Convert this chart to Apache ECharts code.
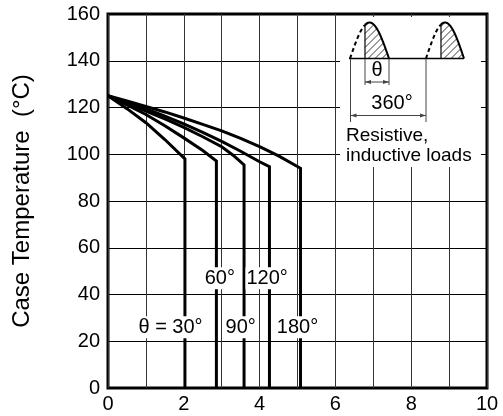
<!DOCTYPE html>
<html>
<head>
<meta charset="utf-8">
<script src="https://cdn.jsdelivr.net/npm/echarts@6/dist/echarts.min.js"></script>
<style>
html,body{margin:0;padding:0;background:#fff;}
#chart{width:503px;height:416px;}
</style>
</head>
<body>
<div id="chart"></div>
<script>
// ---- data ----
const xTicks = [0, 2, 4, 6, 8, 10];
const yTicks = [0, 20, 40, 60, 80, 100, 120, 140, 160];
const curveNames = ['θ = 30°', '60°', '90°', '120°', '180°'];
const curve30  = [[0,125],[0.5,119.5],[1,113.5],[1.5,106.3],[2.03,98],[2.03,0]];
const curve60  = [[0,125],[0.5,121.1],[1,117],[1.5,112.2],[2,107],[2.5,101.6],[2.86,97.1],[2.86,0]];
const curve90  = [[0,125],[0.5,121.8],[1,118.5],[1.5,115.1],[2,111.5],[2.5,107.5],[3,103.2],[3.3,99.6],[3.59,95.4],[3.59,0]];
const curve120 = [[0,125],[0.5,122.3],[1,119.5],[1.5,116.3],[2,113],[2.5,109.4],[3,105.5],[3.5,101.3],[4,96.8],[4.26,94.7],[4.26,0]];
const curve180 = [[0,125],[0.5,122.8],[1,120.5],[1.5,118.1],[2,115.5],[2.5,112.8],[3,110],[3.5,106.8],[4,103.3],[4.5,99.3],[5.08,94],[5.08,0]];
// label anchor points (data coords) for each curve label
const labelPos = [[1.65,26],[2.95,47],[3.5,26],[4.2,47],[5.0,26]];

const FONT = '"Liberation Sans", Arial, Helvetica, sans-serif';
const chart = echarts.init(document.getElementById('chart'), null, {renderer:'canvas'});

const curves = [curve30, curve60, curve90, curve120, curve180];
const series = curves.map((d, i) => ({
  type: 'line', name: curveNames[i], data: d, showSymbol: false, symbol: 'none',
  lineStyle: {color: '#000', width: 3, join: 'miter'}, z: 3, animation: false
}));

const option = {
  animation: false,
  backgroundColor: '#fff',
  grid: {left: 108, right: 16, top: 14, bottom: 28, show: true, borderColor: '#000', borderWidth: 3, backgroundColor: 'transparent'},
  xAxis: {
    type: 'value', min: 0, max: 10, interval: 1,
    axisLine: {show: false}, axisTick: {show: false},
    splitLine: {show: true, lineStyle: {color: '#333', width: 1}},
    axisLabel: {fontFamily: FONT, fontSize: 20, color: '#000', margin: 6,
      formatter: v => xTicks.indexOf(v) >= 0 ? String(v) : ''}
  },
  yAxis: {
    type: 'value', min: 0, max: 160, interval: 20,
    name: 'Case Temperature  (°C)', nameLocation: 'middle', nameGap: 74,
    nameTextStyle: {fontFamily: FONT, fontSize: 24, color: '#000'},
    axisLine: {show: false}, axisTick: {show: false},
    splitLine: {show: true, lineStyle: {color: '#000', width: 1}},
    axisLabel: {fontFamily: FONT, fontSize: 20, color: '#000', margin: 8,
      formatter: v => yTicks.indexOf(v) >= 0 ? String(v) : ''}
  },
  series: series
};
chart.setOption(option);

// ---- decorations: curve labels and inset waveform sketch ----
function buildGraphics() {
  const g = [];
  // curve labels with white background
  labelPos.forEach((p, i) => {
    const px = chart.convertToPixel({gridIndex: 0}, p);
    g.push({type: 'text', x: px[0], y: px[1], z: 100,
      style: {text: curveNames[i], font: '20px ' + FONT, fill: '#000', align: 'center', verticalAlign: 'middle',
        backgroundColor: '#fff', padding: [1, 1]}});
  });
  // inset white box
  g.push({type: 'rect', z: 90, shape: {x: 340, y: 17, width: 141, height: 150}, style: {fill: '#fff'}});
  const B = 58.5, A = 36;
  const pulses = [{x0: 350, w: 39, xs: 365}, {x0: 426, w: 38, xs: 441}];
  const top = (p, x) => B - A * Math.sin(Math.PI * (x - p.x0) / p.w);
  // baseline
  g.push({type: 'line', z: 101, shape: {x1: 349, y1: B, x2: 464, y2: B}, style: {stroke: '#000', lineWidth: 1.5}});
  pulses.forEach(p => {
    const dashPts = [], solidPts = [];
    for (let x = p.x0; x <= p.xs + 0.001; x += 0.5) dashPts.push([x, top(p, x)]);
    for (let x = p.xs; x <= p.x0 + p.w + 0.001; x += 0.5) solidPts.push([x, top(p, x)]);
    g.push({type: 'polyline', z: 102, shape: {points: dashPts}, style: {stroke: '#000', lineWidth: 2, lineDash: [4, 3], fill: null}});
    g.push({type: 'polyline', z: 102, shape: {points: solidPts}, style: {stroke: '#000', lineWidth: 2, fill: null}});
    g.push({type: 'line', z: 102, shape: {x1: p.xs, y1: top(p, p.xs), x2: p.xs, y2: B}, style: {stroke: '#000', lineWidth: 1.2}});
    // hatch "/"
    const xe = p.x0 + p.w;
    for (let c = p.xs + B - 60; c < xe + B + 10; c += 7) {
      let minX = null, maxX = null;
      for (let x = p.xs; x <= xe; x += 0.1) {
        const y = c - x;
        if (y <= B && y >= top(p, x)) { if (minX === null) minX = x; maxX = x; }
      }
      if (minX !== null && maxX - minX > 0.5) {
        g.push({type: 'line', z: 101, shape: {x1: minX, y1: c - minX, x2: maxX, y2: c - maxX}, style: {stroke: '#222', lineWidth: 0.9}});
      }
    }
  });
  const grey = '#444';
  function dim(x1, x2, yExtEnd, yArrow) {
    g.push({type: 'line', z: 101, shape: {x1: x1, y1: B, x2: x1, y2: yExtEnd}, style: {stroke: grey, lineWidth: 1}});
    g.push({type: 'line', z: 101, shape: {x1: x2, y1: B, x2: x2, y2: yExtEnd}, style: {stroke: grey, lineWidth: 1}});
    g.push({type: 'line', z: 101, shape: {x1: x1, y1: yArrow, x2: x2, y2: yArrow}, style: {stroke: grey, lineWidth: 1}});
    g.push({type: 'polygon', z: 101, shape: {points: [[x1, yArrow], [x1 + 6, yArrow - 2], [x1 + 6, yArrow + 2]]}, style: {fill: grey}});
    g.push({type: 'polygon', z: 101, shape: {points: [[x2, yArrow], [x2 - 6, yArrow - 2], [x2 - 6, yArrow + 2]]}, style: {fill: grey}});
  }
  dim(365, 389, 85, 82);
  dim(350.5, 426, 122, 115.5);
  g.push({type: 'text', z: 103, x: 377, y: 70, style: {text: 'θ', font: '20px ' + FONT, fill: '#000', align: 'center', verticalAlign: 'middle'}});
  g.push({type: 'text', z: 103, x: 392, y: 103, style: {text: '360°', font: '20px ' + FONT, fill: '#000', align: 'center', verticalAlign: 'middle'}});
  g.push({type: 'text', z: 103, x: 346, y: 136, style: {text: 'Resistive,', font: '19px ' + FONT, fill: '#000', align: 'left', verticalAlign: 'middle'}});
  g.push({type: 'text', z: 103, x: 346, y: 156, style: {text: 'inductive loads', font: '19px ' + FONT, fill: '#000', align: 'left', verticalAlign: 'middle'}});
  return g;
}
chart.setOption({graphic: {elements: buildGraphics()}});
</script>
</body>
</html>
